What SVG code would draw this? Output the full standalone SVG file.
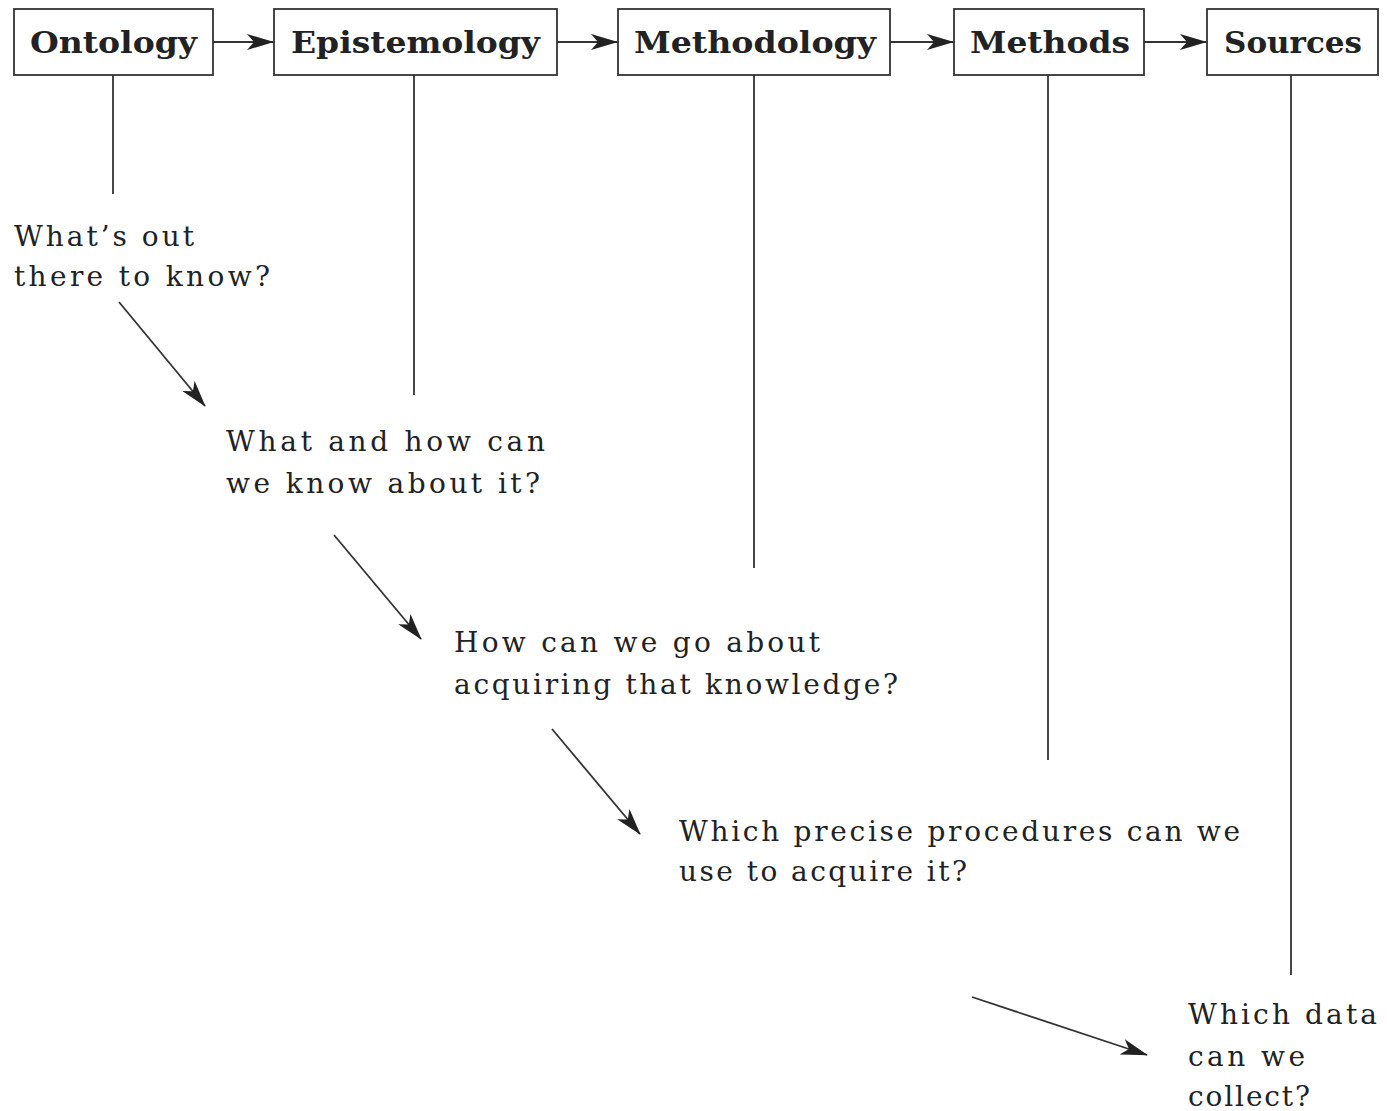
<svg xmlns="http://www.w3.org/2000/svg" width="1387" height="1111" viewBox="0 0 1387 1111">
<style>
.box{fill:#fff;stroke:#333;stroke-width:1.8}
.lbl{font-family:"DejaVu Serif","Liberation Serif",serif;font-weight:bold;font-size:29px;fill:#222}
.q{font-family:"DejaVu Serif","Liberation Serif",serif;font-size:28px;fill:#222}
.ln{stroke:#333;stroke-width:1.8;fill:none}
.ar{stroke:#333;stroke-width:1.8;fill:none;marker-end:url(#ah)}
</style>
<defs>
<marker id="ah" markerWidth="28" markerHeight="16" refX="26" refY="8" orient="auto" markerUnits="userSpaceOnUse">
<path d="M0,0 L27,8 L0,16 L7,8 Z" fill="#222"/>
</marker>
</defs>
<g id="ontology"><rect class="box" x="14" y="9" width="199" height="66"/><text class="lbl" x="30" y="53" textLength="167" lengthAdjust="spacingAndGlyphs">Ontology</text></g>
<g id="epistemology"><rect class="box" x="274" y="9" width="283" height="66"/><text class="lbl" x="291" y="53" textLength="249" lengthAdjust="spacingAndGlyphs">Epistemology</text></g>
<g id="methodology"><rect class="box" x="618" y="9" width="272" height="66"/><text class="lbl" x="634" y="53" textLength="242" lengthAdjust="spacingAndGlyphs">Methodology</text></g>
<g id="methods"><rect class="box" x="954" y="9" width="190" height="66"/><text class="lbl" x="970" y="53" textLength="160" lengthAdjust="spacingAndGlyphs">Methods</text></g>
<g id="sources"><rect class="box" x="1207" y="9" width="171" height="66"/><text class="lbl" x="1224" y="53" textLength="138" lengthAdjust="spacingAndGlyphs">Sources</text></g>
<g id="q1"><text class="q" x="14" y="246" textLength="180" lengthAdjust="spacing">What’s out</text><text class="q" x="14" y="286" textLength="256" lengthAdjust="spacing">there to know?</text></g>
<g id="q2"><text class="q" x="226" y="451" textLength="319" lengthAdjust="spacing">What and how can</text><text class="q" x="226" y="493" textLength="314" lengthAdjust="spacing">we know about it?</text></g>
<g id="q3"><text class="q" x="454" y="652" textLength="366" lengthAdjust="spacing">How can we go about</text><text class="q" x="454" y="694" textLength="444" lengthAdjust="spacing">acquiring that knowledge?</text></g>
<g id="q4"><text class="q" x="679" y="841" textLength="561" lengthAdjust="spacing">Which precise procedures can we</text><text class="q" x="679" y="881" textLength="288" lengthAdjust="spacing">use to acquire it?</text></g>
<g id="q5"><text class="q" x="1188" y="1024" textLength="189" lengthAdjust="spacing">Which data</text><text class="q" x="1188" y="1066" textLength="117" lengthAdjust="spacing">can we</text><text class="q" x="1188" y="1106" textLength="122" lengthAdjust="spacing">collect?</text></g>
<g id="connectors">
<line class="ar" x1="213" y1="42" x2="273" y2="42"/>
<line class="ar" x1="557" y1="42" x2="617" y2="42"/>
<line class="ar" x1="890" y1="42" x2="953" y2="42"/>
<line class="ar" x1="1144" y1="42" x2="1206" y2="42"/>
<line class="ln" x1="113" y1="75" x2="113" y2="194"/>
<line class="ln" x1="414" y1="75" x2="414" y2="395"/>
<line class="ln" x1="754" y1="75" x2="754" y2="568"/>
<line class="ln" x1="1048" y1="75" x2="1048" y2="760"/>
<line class="ln" x1="1291" y1="75" x2="1291" y2="975"/>
<line class="ar" x1="119" y1="302" x2="205" y2="406"/>
<line class="ar" x1="334" y1="535" x2="421" y2="639"/>
<line class="ar" x1="552" y1="729" x2="640" y2="834"/>
<line class="ar" x1="972" y1="997" x2="1147" y2="1055"/>
</g>
</svg>
